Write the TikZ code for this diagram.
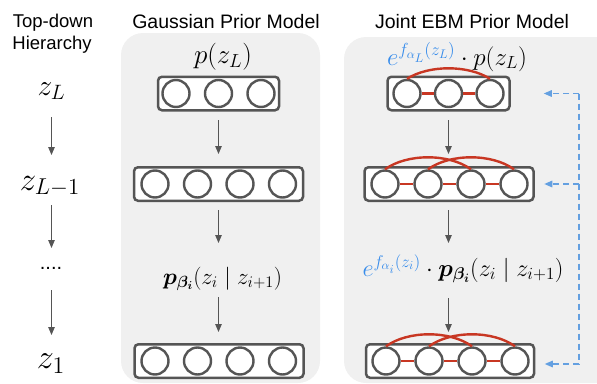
\RequirePackage{fix-cm}
\documentclass[tikz,border=0pt]{standalone}
\usepackage[no-math]{fontspec}
\newfontfamily\sansf{Liberation Sans}
\usepackage{amsmath,bm,graphicx}
\usetikzlibrary{arrows.meta}
\definecolor{panel}{RGB}{240,240,240}
\definecolor{dk}{RGB}{85,85,85}
\definecolor{rd}{RGB}{200,55,35}
\definecolor{bl}{RGB}{55,140,235}
\definecolor{bld}{RGB}{100,160,225}
\tikzset{
  panelbox/.style={fill=panel, draw=none, rounded corners=22pt},
  layerbox/.style={draw=dk, line width=2.5pt, fill=white, rounded corners=4pt, minimum height=33.5pt, inner sep=0pt},
  unit/.style={circle, draw=dk, line width=2.4pt, fill=white, minimum size=27pt, inner sep=0pt},
  lab/.style={font=\sansf\fontsize{18.5}{22}\selectfont, inner sep=0pt, anchor=base},
  ttl/.style={font=\sansf\fontsize{19.5}{23}\selectfont, inner sep=0pt, anchor=base},
  fml/.style={font=\fontsize{22}{26}\selectfont, inner sep=0pt, anchor=base},
  arr/.style={draw=dk, line width=1.2pt, -{Triangle[length=8pt,width=6.5pt]}},
  link/.style={draw=rd, line width=2.4pt},
  fb/.style={draw=bld, line width=1.4pt, dash pattern=on 6pt off 4pt},
  fbarr/.style={fb, -{Triangle[length=8pt,width=6.5pt]}},
}
\begin{document}
\begin{tikzpicture}[x=1pt,y=-1pt]
\useasboundingbox (0,0) rectangle (597,383);
\clip (0,0) rectangle (597,383);
% panels
\fill[panelbox] (121,33) rectangle (320,383);
\fill[panelbox] (344,37) rectangle (625,383);
% left column
\node[lab] (td) at (53,27) {Top-down};
\node[lab] (hi) at (52,49.5) {Hierarchy};
\node[fml] (zL) at (51.5,95) {\resizebox{28pt}{!}{$z_L$}};
\node[fml] (zL1) at (50,190) {\resizebox{60pt}{!}{$z_{L-1}$}};
\node[lab, font=\sansf\fontsize{20}{24}\selectfont] (dots) at (51,269) {....};
\node[fml] (z1) at (51,368) {\resizebox{28pt}{!}{$z_1$}};
\draw[arr, shorten <=22pt, shorten >=35pt] (zL.base) -- (zL.base |- zL1.base);
\draw[arr, shorten <=15pt, shorten >=21pt] (zL.base |- zL1.base) -- (zL.base |- dots.base);
\draw[arr, shorten <=21pt, shorten >=33pt] (zL.base |- dots.base) -- (zL.base |- z1.base);
% titles
\node[ttl] (tg) at (226,28) {Gaussian Prior Model};
\node[ttl] (tj) at (472,28) {Joint EBM Prior Model};
% Gaussian column
\node[fml] (gp) at (223,63) {\resizebox{58pt}{!}{$p(z_L)$}};
\node[layerbox, minimum width=121pt] (g1) at (218.5,93.5) {};
\node[layerbox, minimum width=169pt] (g2) at (218.5,184) {};
\node[fml] (gpb) at (222.5,284) {\resizebox{119pt}{!}{$\bm{p}_{\bm{\beta_i}}(z_i \mid z_{i+1})$}};
\node[layerbox, minimum width=169pt] (g3) at (219,361) {};
\foreach \n/\x in {a/176,b/218.5,c/261} \node[unit] (g1\n) at (\x,93.5) {};
\foreach \n/\x in {a/155,b/197.5,c/240,d/282.5} {
  \node[unit] (g2\n) at (\x,184) {};
  \node[unit] (g3\n) at (\x,361) {};
}
\draw[arr, shorten <=26.5pt, shorten >=30pt] (g1.center) -- (g2.center);
\draw[arr, shorten <=26pt, shorten >=41pt] (g2.center) -- (g2.center |- gpb.base);
\draw[arr, shorten <=13pt, shorten >=29pt] (g2.center |- gpb.base) -- (g2.center |- g3.center);
% Joint column
\node[fml] (jp) at (457,65) {\resizebox{140pt}{!}{${\color{bl}e^{f_{\alpha_L}(z_L)}}\cdot p(z_L)$}};
\node[layerbox, minimum width=122pt] (j1) at (448.5,93.5) {};
\node[layerbox, minimum width=169pt] (j2) at (449,184) {};
\node[fml] (jpb) at (463,276) {\resizebox{201pt}{!}{${\color{bl}e^{f_{\alpha_i}(z_i)}}\cdot \bm{p}_{\bm{\beta_i}}(z_i \mid z_{i+1})$}};
\node[layerbox, minimum width=168pt] (j3) at (450,361) {};
\foreach \n/\x in {a/407,b/448.5,c/490} \node[unit] (j1\n) at (\x,93.5) {};
\foreach \n/\x in {a/385,b/428,c/471,d/514} {
  \node[unit] (j2\n) at (\x,184) {};
  \node[unit] (j3\n) at (\x+1,361) {};
}
% red links
\draw[link] (j1a) -- (j1b); \draw[link] (j1b) -- (j1c);
\draw[link] (j1a.north) .. controls +(22,-14) and +(-22,-14) .. (j1c.north);
\foreach \r in {2,3} {
  \draw[link] (j\r a) -- (j\r b);
  \draw[link] (j\r b) -- (j\r c);
  \draw[link] (j\r c) -- (j\r d);
  \draw[link] (j\r a.north) .. controls +(22,-16) and +(-22,-16) .. (j\r c.north);
  \draw[link] (j\r b.north) .. controls +(22,-16) and +(-22,-16) .. (j\r d.north);
}
\draw[arr, shorten <=26.5pt, shorten >=30pt] (j1.center) -- (j1.center |- j2.center);
\draw[arr, shorten <=26pt, shorten >=33pt] (j1.center |- j2.center) -- (j1.center |- jpb.base);
\draw[arr, shorten <=22pt, shorten >=29pt] (j1.center |- jpb.base) -- (j1.center |- j3.center);
% blue feedback
\coordinate (d1) at (579,93.5);
\coordinate (d2) at (579,184);
\coordinate (d3) at (579,364);
\draw[fb] (d1) -- (d3);
\draw[fbarr, shorten >=33pt] (d1) -- (j1.east);
\draw[fbarr, shorten >=9.5pt] (d2) -- (j2.east);
\draw[fbarr, shorten >=9.5pt] (d3) -- (d3 -| j3.east);
\end{tikzpicture}
\end{document}
